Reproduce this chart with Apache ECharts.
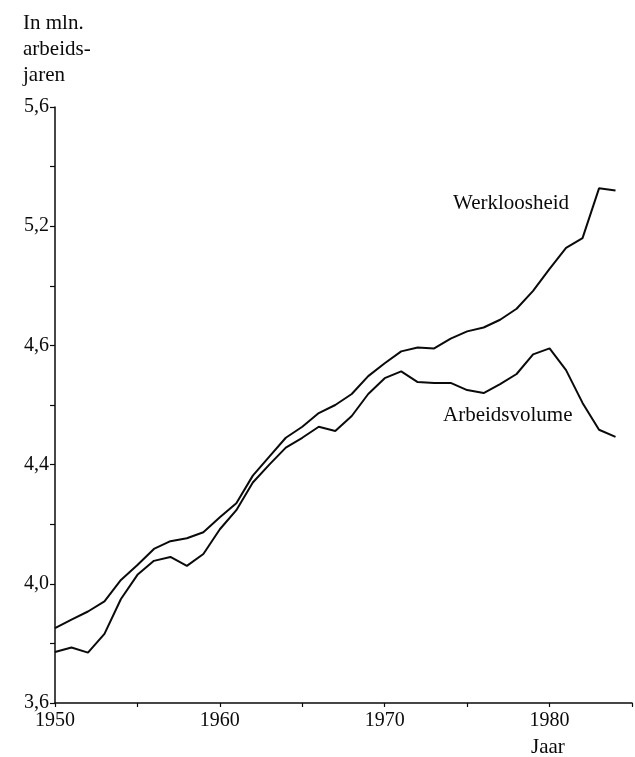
<!DOCTYPE html>
<html>
<head>
<meta charset="utf-8">
<script src="https://cdn.jsdelivr.net/npm/echarts@6/dist/echarts.min.js"></script>
<style>
html,body{margin:0;padding:0;background:#fff;}
#c{width:635px;height:757px;}
</style>
</head>
<body>
<div id="c"></div>
<script>
var years = [];
for (var y = 1950; y <= 1984; y++) years.push(y);

var werkloosheid = [3.851, 3.88, 3.907, 3.941, 4.013, 4.063, 4.117, 4.143, 4.153, 4.173,
  4.223, 4.27, 4.363, 4.427, 4.49, 4.527, 4.573, 4.6, 4.637, 4.697,
  4.74, 4.78, 4.793, 4.79, 4.823, 4.847, 4.86, 4.886, 4.923, 4.983,
  5.057, 5.127, 5.16, 5.327, 5.32];

var arbeidsvolume = [3.771, 3.786, 3.769, 3.832, 3.949, 4.03, 4.077, 4.09, 4.06, 4.1,
  4.183, 4.247, 4.34, 4.4, 4.457, 4.49, 4.527, 4.513, 4.563, 4.637,
  4.69, 4.713, 4.677, 4.674, 4.674, 4.65, 4.64, 4.67, 4.704, 4.77,
  4.79, 4.717, 4.607, 4.517, 4.493];

var yTickValues = [3.6, 4.0, 4.4, 4.8, 5.2, 5.6];
var yTickLabels = ['3,6', '4,0', '4,4', '4,6', '5,2', '5,6'];
var xTickLabels = ['1950', '1960', '1970', '1980'];

var titleLines = ['In mln.', 'arbeids-', 'jaren'];
var seriesNames = ['Werkloosheid', 'Arbeidsvolume'];
var xName = 'Jaar';

function pairs(vals) {
  return vals.map(function (v, i) { return [years[i], v]; });
}

var FONT = '"Liberation Serif", "DejaVu Serif", serif';
var INK = '#0a0a0a';
var chart = echarts.init(document.getElementById('c'), null, {renderer: 'canvas'});

var graphics = [];
titleLines.forEach(function (t, i) {
  graphics.push({type: 'text', left: 23, top: 13 + i * 26,
    style: {text: t, font: '21px ' + FONT, fill: INK}});
});
graphics.push({type: 'text', left: 531, top: 737,
  style: {text: xName, font: '21px ' + FONT, fill: INK}});
graphics.push({type: 'text', left: 453, top: 193,
  style: {text: seriesNames[0], font: '21px ' + FONT, fill: INK}});
graphics.push({type: 'text', left: 443, top: 405,
  style: {text: seriesNames[1], font: '21px ' + FONT, fill: INK}});

chart.setOption({
  animation: false,
  backgroundColor: '#fff',
  grid: {left: 55, right: 3, top: 107, bottom: 54, containLabel: false},
  xAxis: {
    type: 'value', min: 1950, max: 1985, interval: 5,
    axisLine: {lineStyle: {color: INK, width: 1.5}},
    axisTick: {length: 4, lineStyle: {color: INK, width: 1.2}},
    splitLine: {show: false},
    axisLabel: {
      margin: 8, color: INK, fontFamily: FONT, fontSize: 20,
      formatter: function (v) {
        var s = String(Math.round(v));
        return xTickLabels.indexOf(s) >= 0 ? s : '';
      }
    }
  },
  yAxis: {
    type: 'value', min: 3.6, max: 5.6, interval: 0.2,
    axisLine: {show: true, lineStyle: {color: INK, width: 1.5}},
    axisTick: {show: true, length: 5, lineStyle: {color: INK, width: 1.2}},
    splitLine: {show: false},
    axisLabel: {
      margin: 6, color: INK, fontFamily: FONT, fontSize: 20,
      padding: [0, 0, 8, 0],
      formatter: function (v) {
        for (var i = 0; i < yTickValues.length; i++) {
          if (Math.abs(yTickValues[i] - v) < 1e-6) return yTickLabels[i];
        }
        return '';
      }
    }
  },
  series: [
    {name: seriesNames[0], type: 'line', data: pairs(werkloosheid), symbol: 'none',
      lineStyle: {color: INK, width: 2}},
    {name: seriesNames[1], type: 'line', data: pairs(arbeidsvolume), symbol: 'none',
      lineStyle: {color: INK, width: 2}}
  ],
  graphic: graphics
});
</script>
</body>
</html>
